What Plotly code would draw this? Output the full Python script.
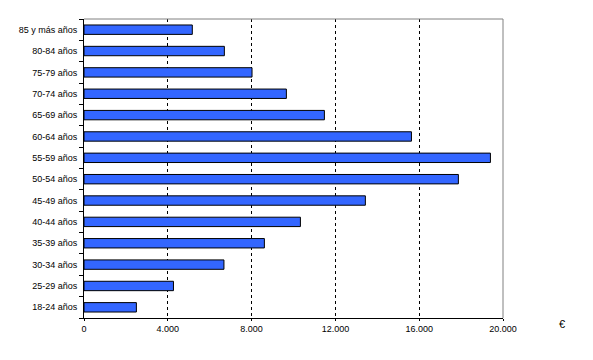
import plotly.graph_objects as go

categories = ["18-24 años", "25-29 años", "30-34 años", "35-39 años", "40-44 años",
              "45-49 años", "50-54 años", "55-59 años", "60-64 años", "65-69 años",
              "70-74 años", "75-79 años", "80-84 años", "85 y más años"]
values = [2500, 4270, 6680, 8610, 10330, 13430, 17870, 19400, 15630, 11475,
          9660, 8020, 6700, 5170]
tick_vals = [0, 4000, 8000, 12000, 16000, 20000]
tick_text = ["0", "4.000", "8.000", "12.000", "16.000", "20.000"]

fig = go.Figure(go.Bar(
    x=values, y=categories, orientation="h",
    marker=dict(color="#3366FF", line=dict(color="black", width=1)),
    width=0.44,
))

font = dict(family="Liberation Sans, Arial, sans-serif", size=9, color="black")

fig.update_layout(
    width=593, height=360,
    margin=dict(l=84, r=90, t=19, b=42),
    paper_bgcolor="white", plot_bgcolor="white",
    showlegend=False,
    font=font,
    xaxis=dict(range=[0, 20000], tickvals=tick_vals, ticktext=tick_text,
               showgrid=True, gridcolor="black", gridwidth=1, griddash="3px,3px",
               showline=True, linecolor="black", linewidth=1,
               ticks="outside", ticklen=2, tickcolor="black",
               zeroline=False, tickfont=font, fixedrange=True),
    yaxis=dict(type="category", categoryorder="array", categoryarray=categories,
               range=[-0.5, 13.5], tickson="boundaries",
               showline=True, linecolor="black", linewidth=1,
               ticks="outside", ticklen=4, tickcolor="black",
               showgrid=False, tickfont=font, ticklabelstandoff=4, fixedrange=True),
    shapes=[
        dict(type="line", xref="x domain", yref="y domain", x0=0, x1=1, y0=1, y1=1,
             line=dict(color="#808080", width=1), layer="above"),
        dict(type="line", xref="x domain", yref="y domain", x0=1, x1=1, y0=0, y1=1,
             line=dict(color="#808080", width=1), layer="above"),
    ],
    annotations=[dict(text="€", xref="paper", yref="paper", x=1.14, y=-0.02,
                      xanchor="center", yanchor="middle",
                      showarrow=False, font=dict(family="Liberation Sans, Arial, sans-serif", size=11, color="black"))],
)

fig.write_html("out.html", config={"displayModeBar": False},
               post_script="document.body.style.margin='0';document.body.style.overflow='hidden';")
